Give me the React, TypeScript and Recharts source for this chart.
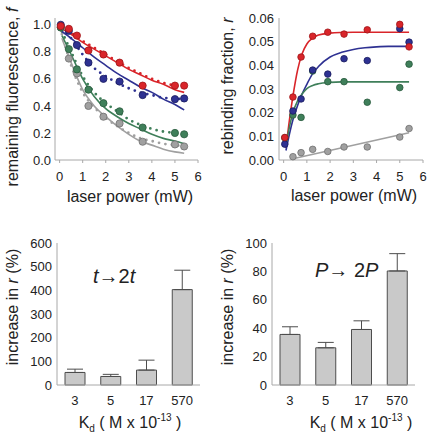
import {ComposedChart, BarChart, Bar, Line, Scatter, XAxis, YAxis, ErrorBar, ReferenceArea} from 'recharts';

// laser power positions of the measured points (mW)
const POWER = [0.05, 0.4, 0.75, 1.25, 1.9, 2.6, 3.6, 5.0, 5.4];

// remaining fluorescence f (top left)
const F_RED = [0.99, 0.97, 0.92, 0.81, 0.78, 0.72, 0.55, 0.55, 0.55];
const F_BLUE = [1.0, 0.955, 0.85, 0.72, 0.6, 0.58, 0.48, 0.45, 0.455];
const F_GREEN = [0.98, 0.82, 0.67, 0.52, 0.42, 0.36, 0.24, 0.2, 0.19];
const F_GRAY = [0.98, 0.75, 0.64, 0.4, 0.32, 0.27, 0.135, 0.115, 0.1];

// fitted (solid) and simulated (dotted) curves for f
const CURVE_X = [0.1, 0.5, 1, 1.5, 2, 2.5, 3, 3.5, 4, 4.5, 5, 5.4];
const FIT_RED = [0.97, 0.93, 0.87, 0.82, 0.77, 0.72, 0.67, 0.63, 0.59, 0.56, 0.52, 0.5];
const FIT_BLUE = [0.95, 0.9, 0.83, 0.76, 0.7, 0.64, 0.59, 0.54, 0.5, 0.45, 0.41, 0.37];
const FIT_GREEN = [0.92, 0.78, 0.6, 0.47, 0.38, 0.32, 0.27, 0.23, 0.19, 0.16, 0.14, 0.12];
const FIT_GRAY = [0.9, 0.72, 0.52, 0.4, 0.32, 0.25, 0.19, 0.14, 0.11, 0.08, 0.06, 0.05];
const SIM_RED = [0.98, 0.94, 0.88, 0.83, 0.78, 0.73, 0.68, 0.64, 0.6, 0.57, 0.55, 0.54];
const SIM_BLUE = [0.97, 0.9, 0.78, 0.68, 0.62, 0.57, 0.53, 0.5, 0.48, 0.46, 0.455, 0.45];
const SIM_GREEN = [0.95, 0.8, 0.62, 0.5, 0.42, 0.36, 0.3, 0.26, 0.23, 0.21, 0.2, 0.19];
const SIM_GRAY = [0.93, 0.7, 0.5, 0.39, 0.31, 0.25, 0.2, 0.16, 0.14, 0.12, 0.11, 0.1];

// rebinding fraction r (top right)
const R_RED = [0.0095, 0.0266, 0.0435, 0.0523, 0.054, 0.0532, 0.055, 0.0573, 0.0478];
const R_BLUE = [0.0067, 0.0207, 0.0258, 0.038, 0.0363, 0.0428, 0.042, 0.0555, 0.0498];
const R_GREEN = [0.0094, 0.019, 0.018, 0.0376, 0.0331, 0.0331, 0.0244, 0.0306, 0.0405];
const R_GRAY = [null, 0.0014, 0.0031, 0.0045, 0.0036, 0.0055, 0.0055, 0.0097, 0.0133];

const RFIT_X = [0.1, 0.25, 0.4, 0.6, 0.8, 1.0, 1.25, 1.5, 2, 2.5, 3, 3.5, 4, 4.5, 5.4];
const RFIT_RED = [0.005, 0.017, 0.027, 0.038, 0.045, 0.049, 0.0515, 0.0528, 0.0536, 0.0539, 0.054, 0.054, 0.054, 0.054, 0.054];
const RFIT_BLUE = [0.004, 0.011, 0.017, 0.023, 0.028, 0.032, 0.0365, 0.0395, 0.0435, 0.0455, 0.0467, 0.0474, 0.0478, 0.048, 0.048];
const RFIT_GREEN = [0.006, 0.014, 0.02, 0.025, 0.028, 0.0302, 0.0315, 0.0322, 0.0328, 0.033, 0.033, 0.033, 0.033, 0.033, 0.033];
const RFIT_GRAY_X = [0.4, 5.4];
const RFIT_GRAY = [0.0005, 0.0115];

// bar panels
const KD = ['3', '5', '17', '570'];
const T_INCREASE = [53, 36, 63, 403];
const T_ERROR = [14, 9, 42, 82];
const P_INCREASE = [35.6, 26.2, 39.1, 80.3];
const P_ERROR = [5.4, 3.8, 6.1, 12.2];

const FONT = '"Liberation Sans", Arial, sans-serif';
const AXIS = '#a8a8a8';
const TEXT = '#222';

const RED = '#d9252a';
const BLUE = '#2e3192';
const GREEN = '#3f7f5a';
const GRAY = '#a0a0a0';

const zip = (xs: number[], ys: (number | null)[]) =>
  xs.map((x, i) => ({x, y: ys[i]})).filter((d) => d.y != null);

const dot = (fill: string, edge: string, r: number) => (p: any) => (
  <circle cx={p.cx} cy={p.cy} r={r} fill={fill} stroke={edge} strokeWidth={0.8} />
);

const tick = {fontSize: 13, fill: TEXT, fontFamily: FONT};

const yTitle = (x: number, y: number, children: any) => (
  <text x={x} y={y} transform={`rotate(-90, ${x}, ${y})`} textAnchor="middle" dominantBaseline="central" fontSize={16} fill={TEXT} fontFamily={FONT}>
    {children}
  </text>
);

const xTitle = (x: number, y: number, children: any) => (
  <text x={x} y={y} textAnchor="middle" fontSize={16} fill={TEXT} fontFamily={FONT}>
    {children}
  </text>
);

const kdTitle = (x: number, y: number) =>
  xTitle(
    x,
    y,
    <>
      K<tspan dy={4} fontSize={10}>d</tspan>
      <tspan dy={-4}> ( M x 10</tspan>
      <tspan dy={-7} fontSize={10}>-13</tspan>
      <tspan dy={7}> )</tspan>
    </>
  );

function FluorescencePanel() {
  const solid = [
    [FIT_RED, RED],
    [FIT_BLUE, BLUE],
    [FIT_GREEN, GREEN],
    [FIT_GRAY, GRAY],
  ] as const;
  const dotted = [
    [SIM_RED, RED],
    [SIM_BLUE, BLUE],
    [SIM_GREEN, GREEN],
    [SIM_GRAY, GRAY],
  ] as const;
  const points = [
    [F_GRAY, GRAY, '#707070'],
    [F_GREEN, GREEN, '#2a5a3e'],
    [F_BLUE, BLUE, '#1b1d5e'],
    [F_RED, RED, '#9e1518'],
  ] as const;
  return (
    <ComposedChart width={215} height={218} margin={{top: 18, right: 17, bottom: 0, left: 0}}>
      <XAxis type="number" dataKey="x" domain={[-0.2, 6]} ticks={[0, 1, 2, 3, 4, 5, 6]} height={58} stroke={AXIS} tickSize={3} tickMargin={9} tick={tick} />
      <YAxis
        type="number"
        domain={[0, 1.05]}
        ticks={[0, 0.2, 0.4, 0.6, 0.8, 1.0]}
        tickFormatter={(v: number) => v.toFixed(1)}
        width={55}
        stroke={AXIS}
        tickSize={0}
        tickMargin={4}
        tick={tick}
      />
      <ReferenceArea fill="none" stroke={AXIS} />
      {dotted.map(([ys, c], i) => (
        <Line key={`s${i}`} data={zip(CURVE_X, ys as any)} dataKey="y" type="monotone" stroke={c} strokeWidth={2.8} strokeDasharray="0 6.5" strokeLinecap="round" dot={false} isAnimationActive={false} />
      ))}
      {solid.map(([ys, c], i) => (
        <Line key={`f${i}`} data={zip(CURVE_X, ys as any)} dataKey="y" type="monotone" stroke={c} strokeWidth={1.6} dot={false} isAnimationActive={false} />
      ))}
      {points.map(([ys, c, e], i) => (
        <Scatter key={`p${i}`} data={zip(POWER, ys as any)} dataKey="y" shape={dot(c, e, 3.6)} isAnimationActive={false} />
      ))}
      {yTitle(12, 97, <>remaining fluorescence, <tspan fontStyle="italic">f</tspan></>)}
      {xTitle(130, 202, 'laser power (mW)')}
    </ComposedChart>
  );
}

function RebindingPanel() {
  const fits = [
    [RFIT_X, RFIT_RED, RED],
    [RFIT_X, RFIT_BLUE, BLUE],
    [RFIT_X, RFIT_GREEN, GREEN],
    [RFIT_GRAY_X, RFIT_GRAY, GRAY],
  ] as const;
  const points = [
    [R_GRAY, GRAY, '#707070'],
    [R_GREEN, GREEN, '#2a5a3e'],
    [R_BLUE, BLUE, '#1b1d5e'],
    [R_RED, RED, '#9e1518'],
  ] as const;
  return (
    <ComposedChart width={215} height={218} margin={{top: 18, right: 7, bottom: 0, left: 0}}>
      <XAxis type="number" dataKey="x" domain={[-0.2, 6]} ticks={[0, 1, 2, 3, 4, 5, 6]} height={58} stroke={AXIS} tickSize={3} tickMargin={9} tick={tick} />
      <YAxis
        type="number"
        domain={[0, 0.06]}
        ticks={[0, 0.01, 0.02, 0.03, 0.04, 0.05, 0.06]}
        tickFormatter={(v: number) => v.toFixed(2)}
        width={64}
        stroke={AXIS}
        tickSize={0}
        tickMargin={5}
        tick={tick}
      />
      <ReferenceArea fill="none" stroke={AXIS} />
      {fits.map(([xs, ys, c], i) => (
        <Line key={`f${i}`} data={zip(xs as any, ys as any)} dataKey="y" type={i === 3 ? 'linear' : 'monotone'} stroke={c} strokeWidth={1.6} dot={false} isAnimationActive={false} />
      ))}
      {points.map(([ys, c, e], i) => (
        <Scatter key={`p${i}`} data={zip(POWER, ys as any)} dataKey="y" shape={dot(c, e, 3.3)} isAnimationActive={false} />
      ))}
      {yTitle(12, 86, <>rebinding fraction, <tspan fontStyle="italic">r</tspan></>)}
      {xTitle(139, 201, 'laser power (mW)')}
    </ComposedChart>
  );
}

function IncreasePanel({values, errors, max, ticks, note, noteX, noteY, titleX}: {values: number[]; errors: number[]; max: number; ticks: number[]; note: any; noteX: number; noteY: number; titleX: number}) {
  const data = KD.map((kd, i) => ({kd, v: values[i], err: [0, errors[i]]}));
  return (
    <BarChart width={215} height={217} data={data} margin={{top: 23, right: 15, bottom: 0, left: 0}}>
      <XAxis dataKey="kd" height={52} stroke={AXIS} tickLine={false} tickSize={0} tickMargin={11} tick={tick} />
      <YAxis type="number" domain={[0, max]} ticks={ticks} width={57} stroke={AXIS} tickSize={0} tickMargin={5} tick={tick} />
      <ReferenceArea fill="none" stroke={AXIS} />
      <Bar dataKey="v" barSize={20} fill="#c9c9c9" stroke="#4d4d4d" strokeWidth={1} isAnimationActive={false}>
        <ErrorBar dataKey="err" width={8} stroke="#4d4d4d" strokeWidth={1} direction="y" />
      </Bar>
      <text x={noteX} y={noteY} fontSize={20} fill={TEXT} fontFamily={FONT}>
        {note}
      </text>
      {yTitle(12, 87, <>increase in <tspan fontStyle="italic">r</tspan> (%)</>)}
      {kdTitle(titleX, 208)}
    </BarChart>
  );
}

export default function App() {
  return (
    <div style={{position: 'absolute', left: 0, top: 0, width: 430, height: 437, background: '#fff', fontFamily: FONT}}>
      <div style={{position: 'absolute', left: 0, top: 0}}>
        <FluorescencePanel />
      </div>
      <div style={{position: 'absolute', left: 215, top: 0}}>
        <RebindingPanel />
      </div>
      <div style={{position: 'absolute', left: 0, top: 220}}>
        <IncreasePanel
          values={T_INCREASE}
          errors={T_ERROR}
          max={600}
          ticks={[0, 100, 200, 300, 400, 500, 600]}
          noteX={93}
          noteY={63}
          titleX={130}
          note={<><tspan fontStyle="italic">t</tspan>→2<tspan fontStyle="italic">t</tspan></>}
        />
      </div>
      <div style={{position: 'absolute', left: 215, top: 220}}>
        <IncreasePanel
          values={P_INCREASE}
          errors={P_ERROR}
          max={100}
          ticks={[0, 20, 40, 60, 80, 100]}
          noteX={100}
          noteY={57}
          titleX={146}
          note={<><tspan fontStyle="italic">P</tspan>→ 2<tspan fontStyle="italic">P</tspan></>}
        />
      </div>
    </div>
  );
}
